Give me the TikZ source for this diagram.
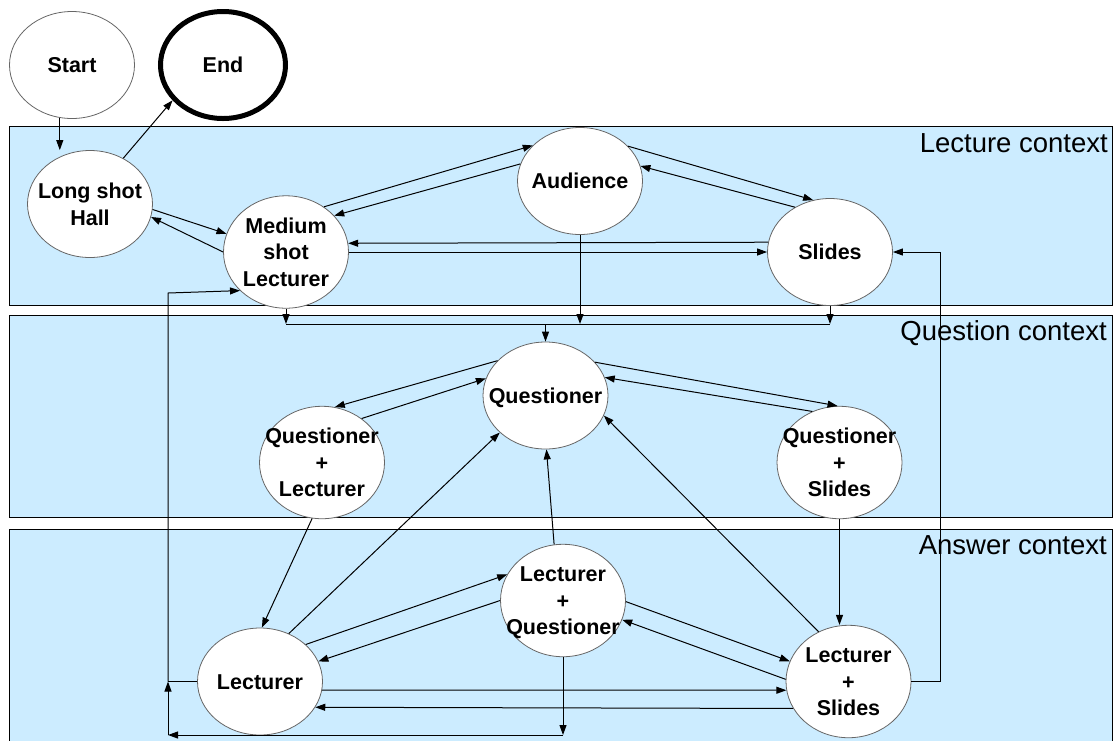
\documentclass[tikz,border=0pt]{standalone}
\usepackage{fontspec}
\setmainfont{Liberation Sans}
\usetikzlibrary{shapes.geometric, arrows.meta}

\definecolor{ctxblue}{RGB}{204,236,255}
\newcommand{\shotname}[1]{\makebox[0pt]{\raisebox{-2.5pt}[\height][\depth]{\begin{tabular}{@{}c@{}}#1\end{tabular}}}}

\tikzset{
  shot/.style={ellipse, draw=black!60, line width=0.8pt, fill=white,
    minimum width=125pt, minimum height=107pt, inner sep=0pt,
    font=\bfseries\fontsize{21.5}{26.5}\selectfont},
  final/.style={shot, draw=black, line width=5pt},
  ctx/.style={draw=black, line width=0.8pt, fill=ctxblue},
  ctxlabel/.style={anchor=base east, inner sep=0pt, font=\fontsize{27.5}{33}\selectfont},
  link/.style={line width=1pt, -{Triangle[length=10pt,width=7pt]}},
  wire/.style={line width=1pt},
}

\begin{document}
\begin{tikzpicture}[x=1pt, y=-1pt]
\useasboundingbox (0,0) rectangle (1115,740);

% context boxes
\draw[ctx] (9,126) rectangle (1112,305);
\draw[ctx] (9,315) rectangle (1112,517);
\draw[ctx] (9,529) rectangle (1112,745);
\node[ctxlabel] (lecctx) at (1108,152) {Lecture context};
\node[ctxlabel] (quectx) at (1107,340) {Question context};
\node[ctxlabel] (ansctx) at (1107,554) {Answer context};

% shots
\node[shot] (start) at (72,65) {\shotname{Start}};
\node[final] (end) at (223,65) {\shotname{End}};
\node[shot] (long) at (90,204) {\shotname{Long shot\\Hall}};
\node[shot] (med) at (286,252) {\shotname{Medium\\shot\\Lecturer}};
\node[shot] (aud) at (580,181) {\shotname{Audience}};
\node[shot] (slides) at (830,252) {\shotname{Slides}};
\node[shot] (quest) at (545.5,395.5) {\shotname{Questioner}};
\node[shot] (ql) at (322,462.5) {\shotname{Questioner\\+\\Lecturer}};
\node[shot] (qs) at (839.5,462.5) {\shotname{Questioner\\+\\Slides}};
\node[shot] (lect) at (260,681.5) {\shotname{Lecturer}};
\node[shot] (lq) at (563,600.5) {\shotname{Lecturer\\+\\Questioner}};
\node[shot] (ls) at (848.5,681.5) {\shotname{Lecturer\\+\\Slides}};

\coordinate (bus) at (545.5,324);
\coordinate (rloop) at (940,252);
\coordinate (lbot) at (168,735);
\coordinate (ltop) at (168,293);

% lecture context
\draw[link] (start.-103) -- (start.-103 |- long.north);
\draw[link] (long.54) -- (end.215.6);
\draw[link] (long.-5) -- (med.163);
\draw[link] (med.180) -- (long.-12);
\draw[link] (med.50) -- (aud.143);
\draw[link] (aud.164) -- (med.37);
\draw[link] (aud.36) -- (slides.108);
\draw[link] (slides.128) -- (aud.14);
\draw[link] (med.east) -- (slides.west);
\draw[link] (slides.171.8) -- (med.8.2);

% into question context
\draw[link] (med.south) -- (med.south |- bus);
\draw[link] (aud.south) -- (aud.south |- bus);
\draw[link] (slides.south) -- (slides.south |- bus);
\draw[wire] (med.south |- bus) -- (slides.south |- bus);
\draw[link] (bus) -- (quest.north);

% question context
\draw[link] (quest.144) -- (ql.77.5);
\draw[link] (ql.48) -- (quest.164.6);
\draw[link] (quest.34) -- (qs.92);
\draw[link] (qs.118.6) -- (quest.17.8);
\draw[link] (ql.-100) -- (lect.88);
\draw[link] (qs.south) -- (qs.south |- ls.north);

% answer context
\draw[link] (lect.59) -- (quest.219.5);
\draw[link] (lq.99.5) -- (quest.-89.5);
\draw[link] (ls.121) -- (quest.-19.7);
\draw[link] (lect.39) -- (lq.155);
\draw[link] (lq.180) -- (lect.19);
\draw[link] (lq.-1.3) -- (ls.161.6);
\draw[link] (ls.178.6) -- (lq.-18.9);
\draw[link] (lect.-8.7) -- (ls.188.7);
\draw[link] (ls.206) -- (lect.-25.8);

% back loops
\draw[link] (ls.east) -| (rloop) -- (slides.east);
\draw[link] (lq.south) -- (lq.south |- lbot);
\draw[link] (lq.south |- lbot) -- (lbot);
\draw[link] (lbot) -- (lbot |- lect.west);
\draw[wire] (lect.west) -- (lbot |- lect.west);
\draw[link] (lbot |- lect.west) -- (ltop) -- (med.220);
\end{tikzpicture}
\end{document}
